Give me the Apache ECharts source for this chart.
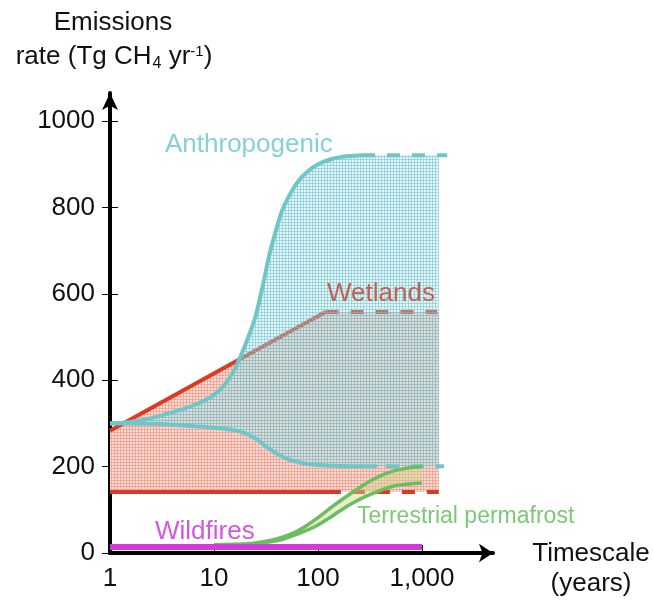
<!DOCTYPE html>
<html>
<head>
<meta charset="utf-8">
<script src="https://cdn.jsdelivr.net/npm/echarts@6/dist/echarts.min.js"></script>
<style>
html,body{margin:0;padding:0;background:#fff;}
#chart{width:653px;height:601px;}
</style>
</head>
<body>
<div id="chart"></div>
<script>
// ---------- data ----------
const xTickValues = [1, 10, 100, 1000];
const xTickLabels = ['1', '10', '100', '1,000'];
const yTickValues = [0, 200, 400, 600, 800, 1000];

// Anthropogenic: upper and lower pathways (years, Tg CH4/yr)
const anthroUpperSolid = [[1,300],[1.5,303],[2.5,312],[3.5,322],[5,333],[7,346],[10,366],[13,393],[16,428],[20,482],[25,547],[30,628],[34,690],[40,752],[45,792],[55,835],[65,862],[80,884],[100,900],[130,911],[160,916],[200,919],[265,921]];
const anthroUpperDashed = [[265,921],[1750,921]];
const anthroLowerSolid = [[1,300],[2.4,299],[4,297],[7,293],[10,290],[15,285],[20,277],[25,265],[32,246],[40,230],[50,218],[65,210],[80,206],[110,203],[140,202],[200,201],[370,201]];
const anthroLowerDashed = [[450,201],[1630,201]];
const anthroBandEnd = [[1450,921],[1450,201]];

// Wetlands
const wetUpperSolid = [[1,283],[118,558]];
const wetUpperDashed = [[118,558],[1400,558]];
const wetLowerSolid = [[1,141],[166,141]];
const wetLowerDashed = [[212,141],[1450,141]];
const wetBandTop = [[1,283],[118,558],[1450,558]];
const wetBandBottom = [[1,141],[1450,141]];

// Terrestrial permafrost (two pathways)
const permaHigh = [[10,19],[15,20],[20,21],[25,23],[35,29],[45,36],[60,48],[76,62],[100,82],[138,108],[180,128],[246,150],[330,169],[447,184],[600,193],[800,198],[1000,200]];
const permaLow = [[10,19],[20,20],[30,24],[45,31],[65,45],[95,62],[125,79],[159,96],[210,114],[288,131],[400,145],[518,154],[700,159],[1000,162]];

// Wildfires
const wildfires = [[1,14],[1000,14]];

// ---------- styles ----------
const FONT = '"Liberation Sans", Arial, Helvetica, sans-serif';
const CYAN = '#6fc6c9';
const RED = '#dc3a24';
const GREEN = '#6cbd62';
const PURPLE = '#d03ad8';

function gridPattern(bg, line, size) {
  const c = document.createElement('canvas');
  c.width = size; c.height = size;
  const ctx = c.getContext('2d');
  ctx.fillStyle = bg; ctx.fillRect(0, 0, size, size);
  ctx.fillStyle = line;
  ctx.fillRect(0, 0, size, 1);
  ctx.fillRect(0, 0, 1, size);
  return { image: c, repeat: 'repeat' };
}
const redHatch = gridPattern('rgba(252,222,214,1)', 'rgba(240,150,132,0.7)', 3);
const cyanHatch = gridPattern('rgba(170,222,228,0.30)', 'rgba(110,195,205,0.55)', 3);

function bandSeries(top, bottom, fill, z) {
  return {
    type: 'custom', z: z, silent: true,
    data: [[top[0][0], top[0][1]]],
    renderItem: function (params, api) {
      const pts = [];
      top.forEach(p => pts.push(api.coord(p)));
      for (let i = bottom.length - 1; i >= 0; i--) pts.push(api.coord(bottom[i]));
      return { type: 'polygon', shape: { points: pts }, style: { fill: fill } };
    }
  };
}
function lineSeries(data, color, width, dashed, z, smooth) {
  return {
    type: 'line', data: data, z: z, showSymbol: false, symbol: 'none',
    smooth: smooth || false, silent: true,
    lineStyle: { color: color, width: width, type: dashed ? [13, 12] : 'solid', cap: 'butt' }
  };
}

const chart = echarts.init(document.getElementById('chart'), null, { renderer: 'canvas' });

const yBase = {
  type: 'value', min: 0, max: 1065, position: 'left',
  splitLine: { show: false }
};

const option = {
  animation: false,
  backgroundColor: '#fff',
  grid: { left: 110, right: 160, top: 93, bottom: 48, containLabel: false, outerBoundsMode: 'none' },
  xAxis: {
    type: 'log', logBase: 10, min: 1, max: 4817,
    axisLine: { onZero: false, symbol: ['none', 'arrow'], symbolSize: [14, 14], lineStyle: { color: '#000', width: 4 } },
    axisTick: { show: true, inside: true, length: 8, lineStyle: { color: '#000', width: 1 } },
    minorTick: { show: false },
    splitLine: { show: false },
    axisLabel: {
      color: '#111', fontSize: 26, fontFamily: FONT, margin: 13, showMaxLabel: false,
      formatter: function (v) { const i = xTickValues.indexOf(v); return i >= 0 ? xTickLabels[i] : ''; }
    }
  },
  yAxis: [
    Object.assign({}, yBase, {
      axisLine: { onZero: false, symbol: ['none', 'arrow'], symbolSize: [12, 17], lineStyle: { color: '#000', width: 4 } },
      axisTick: { show: true, inside: false, length: 8, customValues: yTickValues, lineStyle: { color: '#000', width: 1 } },
      axisLabel: { color: '#111', fontSize: 26, fontFamily: FONT, margin: 15, customValues: yTickValues, formatter: function (v) { return String(v); } }
    }),
    Object.assign({}, yBase, {
      axisLine: { show: false, onZero: false },
      axisTick: { show: true, inside: true, length: 8, customValues: yTickValues, lineStyle: { color: '#000', width: 1 } },
      axisLabel: { show: false }
    })
  ],
  graphic: [
    { type: 'text', x: 113, y: 23, z: 100, style: { text: 'Emissions', fill: '#111', font: '26px ' + FONT, align: 'center', verticalAlign: 'middle' } },
    { type: 'text', x: 114, y: 57, z: 100, style: {
        text: '{a|rate (Tg CH}{s|4}{a| yr}{p|-1}{a|)}', fill: '#111', font: '26px ' + FONT, align: 'center', verticalAlign: 'middle',
        rich: {
          a: { fontSize: 26, fontFamily: FONT, fill: '#111' },
          s: { fontSize: 16, fontFamily: FONT, fill: '#111', padding: [14, 0, 0, 1] },
          p: { fontSize: 15, fontFamily: FONT, fill: '#111', padding: [0, 0, 10, 0] }
        } } },
    { type: 'text', x: 591, y: 554, z: 100, style: { text: 'Timescale', fill: '#111', font: '26px ' + FONT, align: 'center', verticalAlign: 'middle' } },
    { type: 'text', x: 591, y: 584, z: 100, style: { text: '(years)', fill: '#111', font: '26px ' + FONT, align: 'center', verticalAlign: 'middle' } },
    { type: 'text', x: 165, y: 145, z: 100, style: { text: 'Anthropogenic', fill: '#86d0d8', font: '26px ' + FONT, verticalAlign: 'middle' } },
    { type: 'text', x: 327, y: 294, z: 100, style: { text: 'Wetlands', fill: '#c3604e', font: '26px ' + FONT, verticalAlign: 'middle' } },
    { type: 'text', x: 155, y: 532, z: 100, style: { text: 'Wildfires', fill: '#d458dc', font: '26px ' + FONT, verticalAlign: 'middle' } },
    { type: 'text', x: 357, y: 517, z: 100, style: { text: 'Terrestrial permafrost', fill: '#7dc876', font: '23px ' + FONT, verticalAlign: 'middle' } }
  ],
  series: [
    bandSeries(wetBandTop, wetBandBottom, redHatch, 1),
    lineSeries(wetUpperSolid, RED, 4, false, 2),
    lineSeries(wetUpperDashed, RED, 4, true, 2),
    lineSeries(wetLowerSolid, RED, 4, false, 2),
    lineSeries(wetLowerDashed, RED, 4, true, 2),
    bandSeries(anthroUpperSolid.concat(anthroBandEnd.slice(0, 1)), anthroLowerSolid.concat(anthroBandEnd.slice(1)), cyanHatch, 3),
    lineSeries(anthroUpperSolid, CYAN, 4, false, 4, 0.3),
    lineSeries(anthroUpperDashed, CYAN, 4, true, 4),
    lineSeries(anthroLowerSolid, CYAN, 4, false, 4, 0.3),
    lineSeries(anthroLowerDashed, CYAN, 4, true, 4),
    bandSeries(permaHigh, permaLow, 'rgba(200,215,140,0.45)', 5),
    lineSeries(permaHigh, GREEN, 3.5, false, 6, 0.3),
    lineSeries(permaLow, GREEN, 3.5, false, 6, 0.3),
    lineSeries(wildfires, PURPLE, 6, false, 6)
  ]
};
chart.setOption(option);
</script>
</body>
</html>
